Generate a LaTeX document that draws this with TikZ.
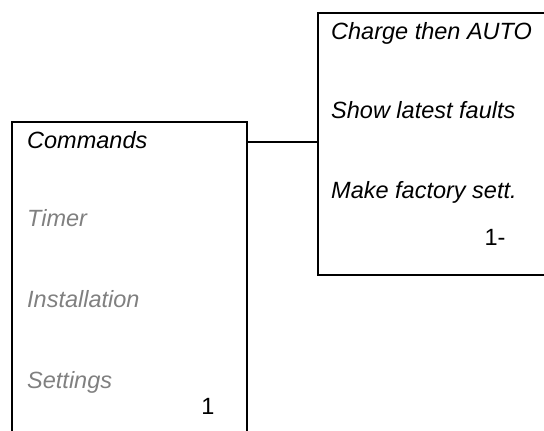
\documentclass[tikz,border=0pt]{standalone}
\usepackage{fontspec}
\setmainfont{Liberation Sans}
\definecolor{menugray}{RGB}{128,128,128}
\newcommand{\menusize}{\fontsize{23.5}{28}\selectfont}
\begin{document}
\begin{tikzpicture}[x=1pt,y=1pt,
  menubox/.style={draw=black, line width=2pt, inner sep=0pt, anchor=north west},
  item/.style={anchor=base west, inner sep=0pt, font=\menusize\itshape},
  dim/.style={item, text=menugray},
  num/.style={anchor=base, inner sep=0pt, font=\menusize},
  link/.style={draw=black, line width=2pt}]
\useasboundingbox (0,0) rectangle (544,-431);
\clip (0,0) rectangle (544,-431);
\node[menubox, minimum width=235pt, minimum height=340pt] (lbox) at (11,-121) {};
\node[menubox, minimum width=260pt, minimum height=262pt] (rbox) at (317,-12) {};
\node[item] (cmd) at (27,-148) {Commands};
\node[dim] (tim) at (27,-226) {Timer};
\node[dim] (inst) at (27,-307) {Installation};
\node[dim] (sett) at (27,-388) {Settings};
\node[num] (n1) at (208,-414) {1};
\node[item] (chg) at (331,-39) {Charge then AUTO};
\node[item] (show) at (331,-118) {Show latest faults};
\node[item] (make) at (331,-198) {Make factory sett.};
\node[num] (n2) at (495,-245) {1-};
\coordinate (c1) at ([yshift=-21pt]lbox.north east);
\draw[link] (c1) -- (c1 -| rbox.west);
\end{tikzpicture}
\end{document}
